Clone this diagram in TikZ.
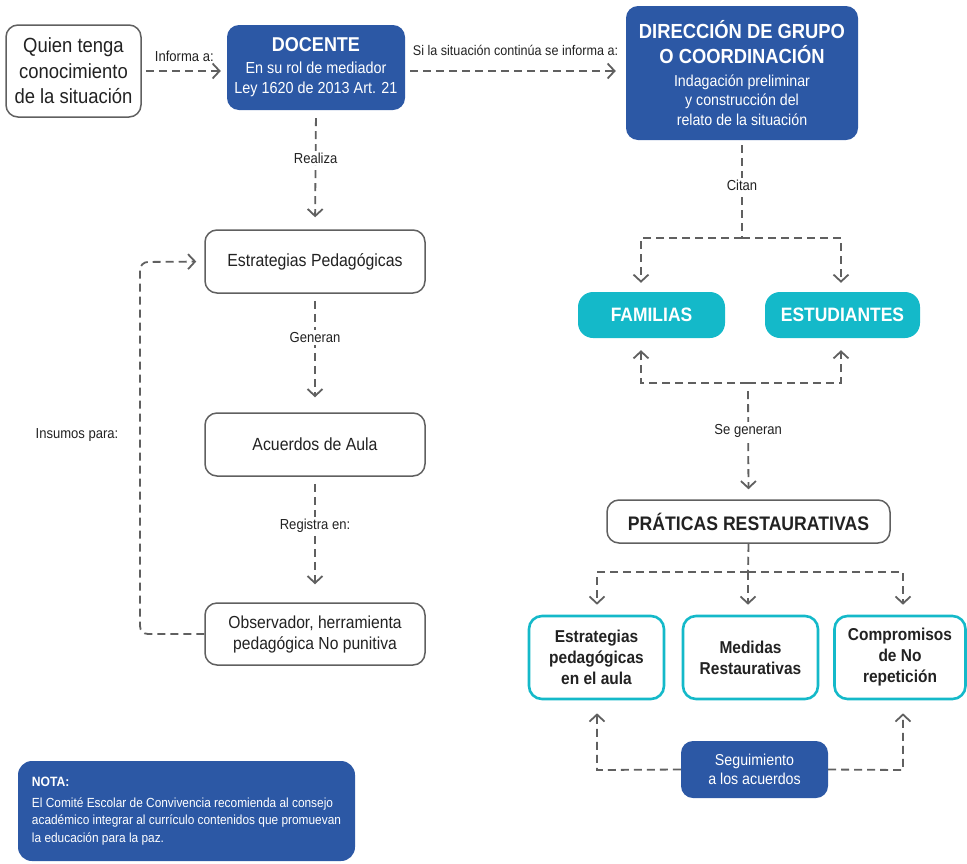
\documentclass[tikz,border=0pt]{standalone}
\usepackage{fontspec}
\setmainfont[FakeStretch=0.9]{Liberation Sans}
\usetikzlibrary{arrows.meta}
\definecolor{nblue}{HTML}{2C58A5}
\definecolor{nteal}{HTML}{14B9C9}
\definecolor{ngray}{HTML}{606060}
\definecolor{ntext}{HTML}{222222}
\newcommand\fsz[2]{\fontsize{#1}{#2}\selectfont}
\begin{document}
\begin{tikzpicture}[x=1pt,y=-1pt,
  wbox/.style={draw=ngray, line width=1.5pt, rounded corners=12pt, fill=white, text=ntext, align=center, inner sep=0pt},
  bbox/.style={fill=nblue, rounded corners=12pt, text=white, align=center, inner sep=0pt},
  tbox/.style={fill=nteal, rounded corners=15pt, text=white, align=center, inner sep=0pt},
  obox/.style={draw=nteal, line width=2.6pt, rounded corners=13pt, fill=white, text=ntext, align=center, inner sep=0pt},
  dline/.style={draw=ngray, line width=1.8pt, dash pattern=on 8pt off 5pt},
  conn/.style={dline, -{Straight Barb[length=7pt,width=15pt,line width=1.8pt]}},
  lbl/.style={fill=white, text=ntext, font=\fsz{14.5}{16}, inner sep=2pt},
]
\useasboundingbox (0,0) rectangle (967,863);

% nodes
\node[wbox, minimum width=135pt, minimum height=92pt, font=\fsz{20.5}{25.5}] (quien) at (73.5,71)
  {Quien tenga\\conocimiento\\de la situación};
\node[bbox, minimum width=178pt, minimum height=85pt, font=\fsz{16}{20}] (docente) at (316,67.5)
  {{\fsz{20}{25}\bfseries DOCENTE}\\[2pt]En su rol de mediador\\Ley 1620 de 2013 Art. 21};
\node[bbox, minimum width=232pt, minimum height=134pt, font=\fsz{15.8}{19.5}] (dir) at (742,73)
  {{\fsz{20.4}{26}\bfseries DIRECCIÓN DE GRUPO}\\[6pt]{\fsz{20.4}{26}\bfseries O COORDINACIÓN}\\[3pt]Indagación preliminar\\y construcción del\\relato de la situación};
\node[wbox, minimum width=220pt, minimum height=63pt, font=\fsz{17.6}{20}] (estr) at (315,261.5)
  {Estrategias Pedagógicas};
\node[wbox, minimum width=220pt, minimum height=63pt, font=\fsz{17.6}{20}] (acu) at (315,444.5)
  {Acuerdos de Aula};
\node[wbox, minimum width=220pt, minimum height=62pt, font=\fsz{17.4}{21}] (obs) at (315,634)
  {Observador, herramienta\\pedagógica No punitiva};
\node[tbox, minimum width=147pt, minimum height=46pt, font=\fsz{19.4}{22}\bfseries] (fam) at (651.5,315)
  {FAMILIAS};
\node[tbox, minimum width=155pt, minimum height=46pt, font=\fsz{19.4}{22}\bfseries] (est) at (842.5,315)
  {ESTUDIANTES};
\node[wbox, minimum width=283pt, minimum height=43pt, font=\fsz{19.6}{22}\bfseries] (prac) at (748.5,521.5)
  {PRÁTICAS RESTAURATIVAS};
\node[obox, minimum width=135pt, minimum height=83pt, font=\fsz{17.2}{21}\bfseries] (b1) at (596.5,657.5)
  {Estrategias\\pedagógicas\\en el aula};
\node[obox, minimum width=135pt, minimum height=83pt, font=\fsz{17.2}{21}\bfseries] (b2) at (750.5,657.5)
  {Medidas\\Restaurativas};
\node[obox, minimum width=131pt, minimum height=83pt, font=\fsz{17.2}{21}\bfseries] (b3) at (900,657.5)
  {Compromisos\\de No\\repetición};
\node[bbox, minimum width=147pt, minimum height=57pt, font=\fsz{15.8}{19.5}] (seg) at (754.5,769.5)
  {Seguimiento\\a los acuerdos};
\node[bbox, rounded corners=14pt, minimum width=337pt, minimum height=100pt, align=left,
      font=\fsz{13.2}{17.5}] (nota) at (186.5,811)
  {{\fsz{13.5}{17.5}\bfseries NOTA:}\\[3pt]
   El Comité Escolar de Convivencia recomienda al consejo\\
   académico integrar al currículo contenidos que promuevan\\
   la educación para la paz.};
\node[text=ntext, font=\fsz{14.5}{16}] (insumos) at (77,435) {Insumos para:};

% connectors
\draw[conn, shorten <=4pt, shorten >=6pt] (quien.east) -- node[lbl, above=6pt, fill=none]{Informa a:} (quien.east -| docente.west);
\draw[conn, shorten <=5pt, shorten >=10pt] (docente.east |- quien.east) -- node[lbl, above=12pt, fill=none, font=\fsz{14}{16}]{Si la situación continúa se informa a:} (dir.west |- quien.east);
\draw[conn, shorten <=8pt, shorten >=12pt] (docente.south) -- node[lbl, pos=0.4]{Realiza} (estr.north);
\draw[conn, shorten <=7pt, shorten >=15pt] (estr.south) -- node[lbl, pos=0.37]{Generan} (acu.north);
\draw[conn, shorten <=7pt, shorten >=18pt] (acu.south) -- node[lbl, pos=0.39]{Registra en:} (obs.north);
\draw[conn, rounded corners=8pt, shorten >=8pt] (obs.west) -- (140,634) -- (140,262) -- (estr.west);

\coordinate (c1) at (742,238);
\draw[dline, shorten <=5pt] (dir.south) -- node[lbl, pos=0.46]{Citan} (c1);
\draw[conn, shorten >=9pt] (c1) -- (641,238) -- ([xshift=-10.5pt]fam.north);
\draw[conn, shorten >=9pt] (c1) -- (841,238) -- ([xshift=-1.5pt]est.north);

\coordinate (c2) at (748,383);
\draw[conn, shorten >=12pt] (c2) -- (641,383) -- ([xshift=-10.5pt]fam.south);
\draw[conn, shorten >=12pt] (c2) -- (841,383) -- ([xshift=-1.5pt]est.south);
\draw[conn, shorten <=8pt, shorten >=10pt] (c2) -- node[lbl, pos=0.41]{Se generan} (prac.north);

\coordinate (c3) at (748,572);
\draw[dline] (prac.south) -- (c3);
\draw[conn, shorten >=10pt] (c3) -- (597,572) -- ([xshift=0.5pt]b1.north);
\draw[conn, shorten >=10pt] (c3) -- ([xshift=-2.5pt]b2.north);
\draw[conn, shorten >=10pt] (c3) -- (903,572) -- ([xshift=3pt]b3.north);

\draw[conn, shorten >=13pt] (seg.west) -- (597,770) -- ([xshift=0.5pt]b1.south);
\draw[conn, shorten >=13pt] (seg.east) -- (903,770) -- ([xshift=3pt]b3.south);
\end{tikzpicture}
\end{document}
